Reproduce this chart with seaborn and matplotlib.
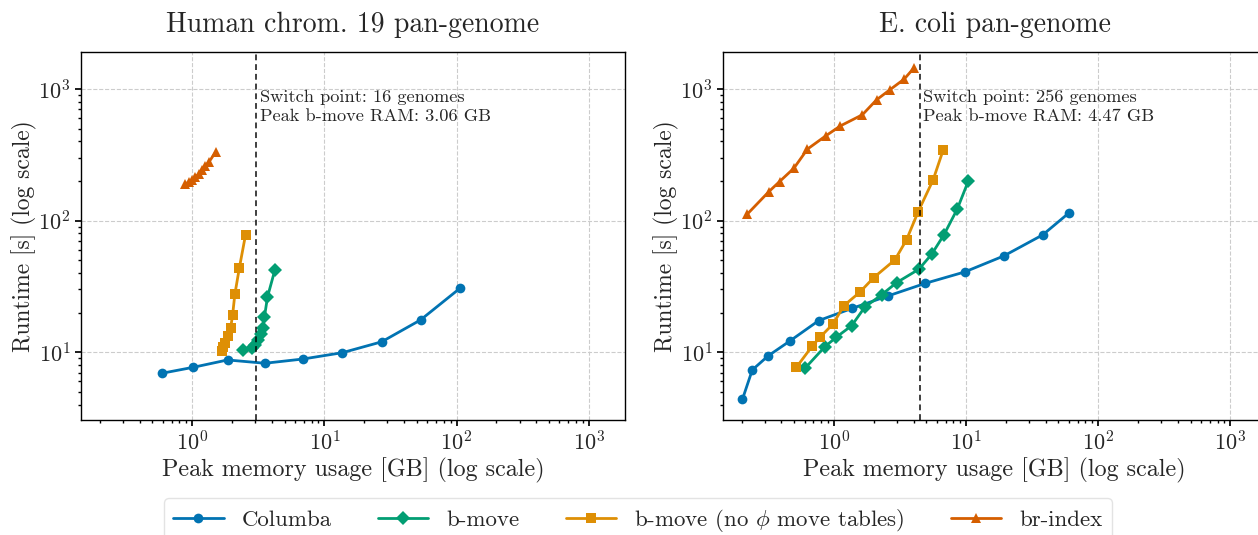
import matplotlib
matplotlib.use("Agg")
import matplotlib.pyplot as plt
import matplotlib.transforms as mtransforms
import seaborn as sns

# Human chromosome 19 pan-genome (peak memory GB, runtime s)
human_columba_mem = [0.587, 1.02, 1.85, 3.55, 6.91, 13.7, 27.1, 53.4, 106]
human_columba_time = [6.92, 7.69, 8.74, 8.25, 8.89, 9.93, 12.0, 17.6, 30.6]
human_bmove_mem = [2.43, 2.81, 2.98, 3.16, 3.31, 3.43, 3.52, 3.71, 4.22]
human_bmove_time = [10.4, 10.7, 11.4, 12.4, 13.8, 15.3, 18.6, 26.3, 42.2]
human_nophi_mem = [1.69, 1.72, 1.78, 1.85, 1.95, 2.02, 2.10, 2.27, 2.53]
human_nophi_time = [10.2, 10.9, 11.8, 13.3, 15.2, 19.2, 27.5, 43.5, 77.9]
human_br_mem = [0.881, 0.944, 0.995, 1.05, 1.12, 1.18, 1.25, 1.34, 1.51]
human_br_time = [188, 197, 204, 213, 226, 243, 260, 279, 334]
human_switch_mem = 3.06
human_switch_genomes = 16

# E. coli pan-genome
ecoli_columba_mem = [0.203, 0.241, 0.317, 0.468, 0.767, 1.38, 2.57, 4.92, 9.74, 19.3, 38.0, 60.4]
ecoli_columba_time = [4.39, 7.34, 9.37, 12.25, 17.4, 21.6, 26.8, 33.4, 40.7, 53.9, 77.9, 115]
ecoli_bmove_mem = [0.604, 0.852, 1.04, 1.36, 1.71, 2.29, 2.98, 4.39, 5.48, 6.79, 8.56, 10.4]
ecoli_bmove_time = [7.56, 11.0, 13.0, 15.9, 22.0, 27.3, 33.8, 42.7, 55.4, 77.9, 122, 200]
ecoli_nophi_mem = [0.520, 0.687, 0.790, 0.984, 1.19, 1.57, 2.00, 2.89, 3.54, 4.34, 5.63, 6.71]
ecoli_nophi_time = [7.69, 11.2, 13.1, 16.4, 22.6, 28.6, 36.9, 50.3, 71.4, 117, 204, 344]
ecoli_br_mem = [0.221, 0.322, 0.388, 0.498, 0.630, 0.867, 1.12, 1.64, 2.10, 2.65, 3.40, 4.02]
ecoli_br_time = [112, 166, 198, 250, 349, 440, 524, 636, 826, 985, 1187, 1439]
ecoli_switch_mem = 4.47
ecoli_switch_genomes = 256

titles = ["Human chrom. 19 pan-genome", "E. coli pan-genome"]
labels = ["Columba", "b-move", r"b-move (no $\phi$ move tables)", "br-index"]

sns.set_theme(style="whitegrid")
plt.rcParams["font.family"] = ["cmr10", "DejaVu Serif"]
plt.rcParams["mathtext.fontset"] = "cm"
plt.rcParams["axes.formatter.use_mathtext"] = True
plt.rcParams["axes.unicode_minus"] = False

pal = sns.color_palette("colorblind")
colors = [pal[0], pal[2], pal[1], pal[3]]
markers = ["o", "D", "s", "^"]

panels = [
    ([human_columba_mem, human_bmove_mem, human_nophi_mem, human_br_mem],
     [human_columba_time, human_bmove_time, human_nophi_time, human_br_time],
     human_switch_mem, human_switch_genomes),
    ([ecoli_columba_mem, ecoli_bmove_mem, ecoli_nophi_mem, ecoli_br_mem],
     [ecoli_columba_time, ecoli_bmove_time, ecoli_nophi_time, ecoli_br_time],
     ecoli_switch_mem, ecoli_switch_genomes),
]

fig = plt.figure(figsize=(12.58, 5.35), dpi=100)
ax1 = fig.add_axes([0.0644, 0.215, 0.4324, 0.688])
ax2 = fig.add_axes([0.5745, 0.215, 0.4324, 0.688])

for ax, title, (xs, ys, sw_mem, sw_gen) in zip([ax1, ax2], titles, panels):
    for x, y, c, m, lab in zip(xs, ys, colors, markers, labels):
        sns.lineplot(x=x, y=y, ax=ax, color=c, marker=m, markersize=7,
                     markeredgewidth=0, linewidth=2, sort=False, label=lab,
                     legend=False)
    ax.set_xscale("log")
    ax.set_yscale("log")
    ax.set_xlim(0.144, 1880)
    ax.set_ylim(3.06, 1910)
    ax.grid(True, which="major", linestyle="--", color="#cccccc", linewidth=0.8)
    ax.axvline(sw_mem, color="black", linestyle=(0, (3, 2)), linewidth=1.4, alpha=0.75)
    trans = mtransforms.blended_transform_factory(ax.transData, ax.transAxes)
    ax.text(sw_mem * 1.06, 0.897,
            f"Switch point: {sw_gen} genomes\nPeak b-move RAM: {sw_mem:.2f} GB",
            transform=trans, va="top", ha="left", fontsize=13.2, linespacing=1.25)
    for s in ax.spines.values():
        s.set_color("black")
        s.set_linewidth(1.0)
    ax.tick_params(which="both", direction="out", color="black", left=True, bottom=True)
    ax.tick_params(which="major", length=4, labelsize=16)
    ax.tick_params(which="minor", length=2)
    ax.set_title(title, fontsize=20, pad=14)
    ax.set_xlabel("Peak memory usage [GB] (log scale)", fontsize=17.3, labelpad=2)
    ax.set_ylabel("Runtime [s] (log scale)", fontsize=17, labelpad=1)

handles, leg_labels = ax1.get_legend_handles_labels()
fig.legend(handles, leg_labels, loc="upper center", bbox_to_anchor=(0.507, 0.082),
           ncol=4, fontsize=16.5, frameon=True, edgecolor="#dddddd",
           handlelength=2.2, columnspacing=2.0, borderaxespad=0.3)

fig.savefig("out.png", dpi=100)
